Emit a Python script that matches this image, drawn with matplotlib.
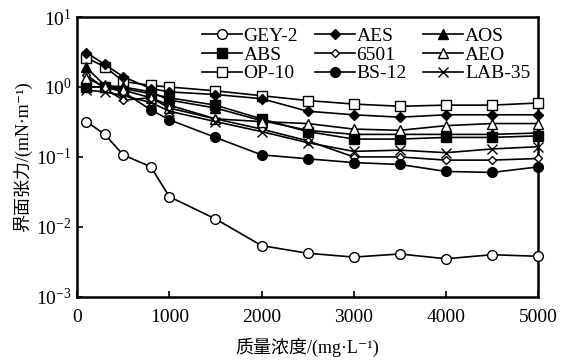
import matplotlib
matplotlib.use("Agg")
import matplotlib.pyplot as plt
from matplotlib.ticker import LogLocator, NullLocator

plt.rcParams["font.family"] = ["Liberation Serif", "Noto Sans CJK SC", "DejaVu Sans"]
plt.rcParams["mathtext.fontset"] = "stix"

conc = [100, 300, 500, 800, 1000, 1500, 2000, 2500, 3000, 3500, 4000, 4500, 5000]

gey2 = [0.32, 0.21, 0.107, 0.072, 0.027, 0.013, 0.0054, 0.0042, 0.0037, 0.0041, 0.0035, 0.0040, 0.0038]
aes = [3.1, 2.1, 1.4, 0.95, 0.85, 0.78, 0.68, 0.45, 0.40, 0.37, 0.40, 0.40, 0.40]
aos = [1.9, 1.05, 1.0, 0.85, 0.65, 0.5, 0.33, 0.24, 0.21, 0.21, 0.21, 0.21, 0.22]
abs_ = [1.0, 1.0, 0.95, 0.8, 0.7, 0.55, 0.35, 0.23, 0.18, 0.18, 0.19, 0.19, 0.20]
s6501 = [1.5, 0.95, 0.65, 0.7, 0.55, 0.35, 0.25, 0.17, 0.10, 0.10, 0.09, 0.09, 0.095]
aeo = [1.35, 1.0, 0.9, 0.7, 0.5, 0.35, 0.32, 0.30, 0.25, 0.24, 0.28, 0.30, 0.30]
op10 = [2.6, 1.95, 1.2, 1.05, 1.0, 0.88, 0.75, 0.64, 0.57, 0.53, 0.55, 0.55, 0.59]
bs12 = [1.0, 1.0, 0.85, 0.47, 0.34, 0.19, 0.107, 0.094, 0.083, 0.078, 0.062, 0.060, 0.072]
lab35 = [0.9, 0.85, 0.75, 0.6, 0.45, 0.32, 0.23, 0.16, 0.12, 0.125, 0.115, 0.13, 0.14]

# (label, values, marker, filled, size) -- ordered column-wise for a 3-col legend
series = [
    ("GEY-2", gey2, "o", False, 7),
    ("ABS", abs_, "s", True, 6.5),
    ("OP-10", op10, "s", False, 6.5),
    ("AES", aes, "D", True, 5),
    ("6501", s6501, "D", False, 4),
    ("BS-12", bs12, "o", True, 7),
    ("AOS", aos, "^", True, 6.5),
    ("AEO", aeo, "^", False, 6.5),
    ("LAB-35", lab35, "x", True, 6.5),
]

fig = plt.figure(figsize=(5.63, 3.62), dpi=100)
ax = fig.add_axes([0.137, 0.180, 0.819, 0.773])

for label, vals, marker, filled, ms in series:
    ax.plot(conc, vals, color="black", linewidth=1.2, marker=marker,
            markersize=ms, markerfacecolor="black" if filled else "white",
            markeredgecolor="black", markeredgewidth=1.0, label=label,
            clip_on=False, zorder=3)

ax.set_yscale("log")
ax.set_xlim(0, 5000)
ax.set_ylim(1e-3, 1e1)
ax.set_xticks([0, 1000, 2000, 3000, 4000, 5000])
ax.yaxis.set_major_locator(LogLocator(base=10, numticks=10))
ax.yaxis.set_minor_locator(NullLocator())
ax.tick_params(direction="in", length=4, width=1.2, labelsize=14)
ax.tick_params(axis="x", pad=9)
ax.tick_params(axis="y", pad=4)
for sp in ax.spines.values():
    sp.set_linewidth(1.8)

ax.set_xlabel("质量浓度/(mg·L⁻¹)", fontsize=13, labelpad=8)
ax.set_ylabel("界面张力/(mN·m⁻¹)", fontsize=13, labelpad=3)

ax.legend(ncol=3, loc="upper right", bbox_to_anchor=(1.0, 0.99), frameon=False,
          fontsize=14, handlelength=2.05, handletextpad=0.1, columnspacing=0.85,
          labelspacing=0.05, borderaxespad=0.0)

fig.savefig("out.png", dpi=100)
